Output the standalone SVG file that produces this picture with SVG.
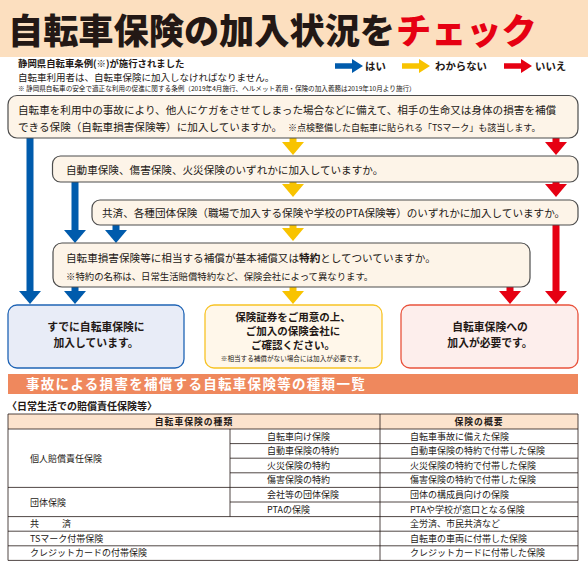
<svg xmlns="http://www.w3.org/2000/svg" width="588" height="565" viewBox="0 0 588 565">
<style>
text{font-family:"Noto Sans CJK JP","Noto Sans CJK SC",sans-serif;fill:#231815}
.q{fill:#fdf4e8;stroke:#4d4d4d;stroke-width:1.2}
.qt{font-size:10.6px}
.b{fill:#005bac}.y{fill:#f8c300}.r{fill:#e60012}
.res{font-size:10.8px;font-weight:bold;text-anchor:middle}
.tb{font-size:9px}
.th{font-size:8.8px;font-weight:bold;letter-spacing:1px;text-anchor:middle}
.ln{stroke:#231815;stroke-width:0.8;fill:none}
.ttl{font-size:35.2px;font-weight:900}
</style>
<defs>
<polygon id="hd" points="-11,0 11,0 0,13"/>
<polygon id="ra" points="0,-2.7 17,-2.7 17,-7 28,0 17,7 17,2.7 0,2.7"/>
</defs>

<g id="header">
<rect x="0" y="0" width="588" height="57" fill="#fcdfbf"/>
<text x="8" y="44" class="ttl">自転車保険の加入状況を</text>
<text x="396" y="44" class="ttl" style="fill:#e60012">チェック</text>
</g>

<g id="intro">
<text x="18" y="67" font-size="9.4" font-weight="bold">静岡県自転車条例(※)が施行されました</text>
<text x="18" y="81" font-size="9.5">自転車利用者は、自転車保険に加入しなければなりません。</text>
<text x="18" y="91" font-size="6.6">※ 静岡県自転車の安全で適正な利用の促進に関する条例（2019年4月施行、ヘルメット着用・保険の加入義務は2019年10月より施行）</text>
</g>

<g id="legend">
<use href="#ra" x="335" y="66" class="b"/>
<text x="365" y="70" font-size="10.4" font-weight="bold">はい</text>
<use href="#ra" x="402" y="66" class="y"/>
<text x="435" y="70" font-size="10.4" font-weight="bold">わからない</text>
<use href="#ra" x="504" y="66" class="r"/>
<text x="535" y="70" font-size="10.4" font-weight="bold">いいえ</text>
</g>

<g id="connectors">
<rect x="26.5" y="138" width="7" height="154" class="b"/><use href="#hd" x="30" y="291" class="b"/>
<rect x="71.5" y="182" width="7" height="49" class="b"/><use href="#hd" x="75" y="230" class="b"/>
<rect x="112.5" y="225" width="7" height="6" class="b"/><use href="#hd" x="116" y="230" class="b"/>
<rect x="71.5" y="287" width="7" height="5" class="b"/><use href="#hd" x="75" y="291" class="b"/>
<rect x="289.5" y="138" width="7" height="5" class="y"/><use href="#hd" x="293" y="142" class="y"/>
<rect x="289.5" y="182" width="7" height="3" class="y"/><use href="#hd" x="293" y="184" class="y"/>
<rect x="289.5" y="225" width="7" height="4" class="y"/><use href="#hd" x="293" y="228" class="y"/>
<rect x="289.5" y="287" width="7" height="5" class="y"/><use href="#hd" x="293" y="291" class="y"/>
<rect x="552.5" y="138" width="7" height="5" class="r"/><use href="#hd" x="556" y="142" class="r"/>
<rect x="552.5" y="182" width="7" height="3" class="r"/><use href="#hd" x="556" y="184" class="r"/>
<rect x="552.5" y="225" width="7" height="67" class="r"/><use href="#hd" x="556" y="291" class="r"/>
<rect x="506.5" y="287" width="7" height="5" class="r"/><use href="#hd" x="510" y="291" class="r"/>
</g>

<g id="q1">
<rect x="8" y="95.5" width="570" height="42.5" rx="9" class="q"/>
<text x="18" y="114" class="qt">自転車を利用中の事故により、他人にケガをさせてしまった場合などに備えて、相手の生命又は身体の損害を補償</text>
<text x="18" y="131" class="qt">できる保険（自転車損害保険等）に加入していますか。<tspan x="288" font-size="9">※点検整備した自転車に貼られる「TSマーク」も該当します。</tspan></text>
</g>

<g id="q2">
<rect x="52.5" y="156" width="525.5" height="26" rx="8" class="q"/>
<text x="66" y="173.5" class="qt">自動車保険、傷害保険、火災保険のいずれかに加入していますか。</text>
</g>

<g id="q3">
<rect x="92" y="200" width="486" height="25" rx="8" class="q"/>
<text x="102" y="217" class="qt">共済、各種団体保険（職場で加入する保険や学校のPTA保険等）のいずれかに加入していますか。</text>
</g>

<g id="q4">
<rect x="53" y="243" width="477" height="44" rx="9" class="q"/>
<text x="66" y="262" class="qt">自転車損害保険等に相当する補償が基本補償又は<tspan font-weight="bold">特約</tspan>としてついていますか。</text>
<text x="66" y="280" font-size="9.4">※特約の名称は、日常生活賠償特約など、保険会社によって異なります。</text>
</g>

<g id="r-yes">
<rect x="8" y="305" width="176" height="63" rx="9" fill="#e8ecf7" stroke="#1f64b5" stroke-width="1.3"/>
<text x="96" y="331" class="res">すでに自転車保険に</text>
<text x="96" y="347" class="res">加入しています。</text>
</g>

<g id="r-unknown">
<rect x="205" y="305" width="177" height="63" rx="9" fill="#fff7ea" stroke="#f7c325" stroke-width="1.3"/>
<text x="293" y="321" class="res" style="font-size:10.5px">保険証券をご用意の上、</text>
<text x="293" y="335" class="res" style="font-size:10.5px">ご加入の保険会社に</text>
<text x="293" y="349" class="res" style="font-size:10.5px">ご確認ください。</text>
<text x="293" y="361" font-size="6.6" text-anchor="middle">※相当する補償がない場合には加入が必要です。</text>
</g>

<g id="r-no">
<rect x="401" y="305" width="177" height="63" rx="9" fill="#fdeeec" stroke="#e9533d" stroke-width="1.3"/>
<text x="490" y="331" class="res">自転車保険への</text>
<text x="490" y="347" class="res">加入が必要です。</text>
</g>

<g id="section">
<rect x="8" y="374" width="570" height="20" fill="#ef885d"/>
<text x="26" y="389" font-size="13.5" font-weight="bold" letter-spacing="1.3" style="fill:#fff">事故による損害を補償する自転車保険等の種類一覧</text>
<text x="7" y="410" font-size="10" font-weight="bold">〈日常生活での賠償責任保険等〉</text>
</g>

<g id="table">
<rect x="8" y="414" width="570" height="15" fill="#fce3cd"/>
<path class="ln" d="M8 414H578M8 429H578M230 443.6H578M230 458.2H578M230 472.8H578M8 487.4H578M230 502H578M8 516.6H578M8 531.2H578M8 545.8H578M8 560.4H578M8 414V560.4M578 414V560.4M380 414V560.4M230 429V516.6"/>
<text x="194" y="425" class="th">自転車保険の種類</text>
<text x="479" y="425" class="th">保険の概要</text>
<text x="30" y="461.5" class="tb">個人賠償責任保険</text>
<text x="30" y="505.5" class="tb">団体保険</text>
<text x="30" y="527" class="tb">共</text><text x="62" y="527" class="tb">済</text>
<text x="30" y="541.7" class="tb">TSマーク付帯保険</text>
<text x="30" y="556.3" class="tb">クレジットカードの付帯保険</text>
<text x="267" y="439.5" class="tb">自転車向け保険</text>
<text x="267" y="454.1" class="tb">自動車保険の特約</text>
<text x="267" y="468.7" class="tb">火災保険の特約</text>
<text x="267" y="483.3" class="tb">傷害保険の特約</text>
<text x="267" y="497.9" class="tb">会社等の団体保険</text>
<text x="267" y="512.5" class="tb">PTAの保険</text>
<text x="410" y="439.5" class="tb">自転車事故に備えた保険</text>
<text x="410" y="454.1" class="tb">自動車保険の特約で付帯した保険</text>
<text x="410" y="468.7" class="tb">火災保険の特約で付帯した保険</text>
<text x="410" y="483.3" class="tb">傷害保険の特約で付帯した保険</text>
<text x="410" y="497.9" class="tb">団体の構成員向けの保険</text>
<text x="410" y="512.5" class="tb">PTAや学校が窓口となる保険</text>
<text x="410" y="527" class="tb">全労済、市民共済など</text>
<text x="410" y="541.7" class="tb">自転車の車両に付帯した保険</text>
<text x="410" y="556.3" class="tb">クレジットカードに付帯した保険</text>
</g>
</svg>
